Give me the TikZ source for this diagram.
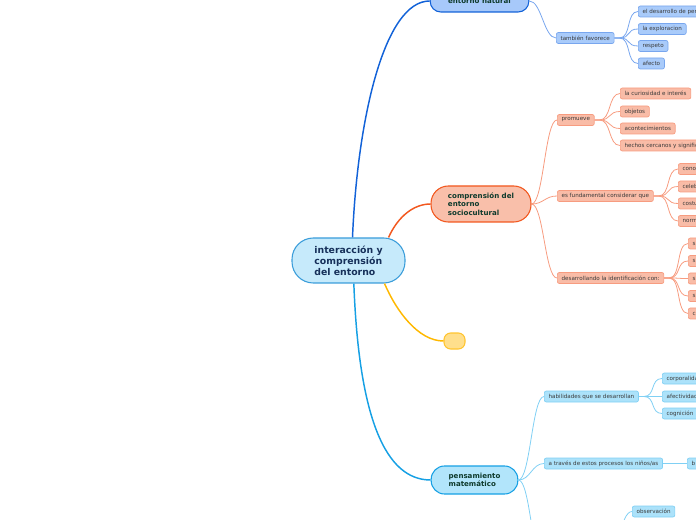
\documentclass[tikz,border=0pt]{standalone}
\usepackage{fontspec}
\setmainfont{DejaVu Sans}
\usepackage{xcolor}
\usepackage{tikz}
\usetikzlibrary{positioning}

\definecolor{mRootFill}{HTML}{C6EAFB}
\definecolor{mRootLine}{HTML}{3A9DDA}
\definecolor{mRootText}{HTML}{16305A}
\definecolor{mTopicText}{HTML}{0E3A2C}
\definecolor{mLeafText}{HTML}{3A3A3A}
\definecolor{mBlue}{HTML}{1262D8}
\definecolor{mBlueFill}{HTML}{A7C9FA}
\definecolor{mBlueLeaf}{HTML}{A9CBFA}
\definecolor{mBlueEdge}{HTML}{78A6EE}
\definecolor{mOrange}{HTML}{F2581F}
\definecolor{mOrangeFill}{HTML}{F9BFAA}
\definecolor{mOrangeLeaf}{HTML}{F9BCA7}
\definecolor{mOrangeEdge}{HTML}{F79C80}
\definecolor{mAmber}{HTML}{FFB800}
\definecolor{mAmberFill}{HTML}{FFDF8C}
\definecolor{mAmberLine}{HTML}{FFC42E}
\definecolor{mCyan}{HTML}{16A0E4}
\definecolor{mCyanFill}{HTML}{B2E5FB}
\definecolor{mCyanLeaf}{HTML}{ACE2FA}
\definecolor{mCyanEdge}{HTML}{80D0F4}

\begin{document}
\begin{tikzpicture}[x=0.75pt, y=-0.75pt,
  rootbox/.style={draw=mRootLine, line width=0.8pt, fill=mRootFill, rounded corners=16pt, minimum width=84.75pt, minimum height=33.75pt, align=left, text=mRootText, font=\fontsize{7}{8.3}\selectfont\bfseries},
  topicbox/.style={line width=0.8pt, align=left, text=mTopicText, font=\fontsize{5.3}{6.4}\selectfont\bfseries},
  leafbox/.style={anchor=west, line width=0.5pt, rounded corners=1.5pt, inner xsep=3.2pt, inner ysep=0pt, minimum height=8.25pt, text=mLeafText, font=\fontsize{4.2}{5}\selectfont},
  blueleaf/.style={leafbox, draw=mBlueEdge, fill=mBlueLeaf},
  orangeleaf/.style={leafbox, draw=mOrangeEdge, fill=mOrangeLeaf},
  cyanleaf/.style={leafbox, draw=mCyanEdge, fill=mCyanLeaf},
  wire/.style={out=0, in=180, out distance=9pt, in distance=9pt},
  mainlink/.style={line width=1.1pt}]
\useasboundingbox (0,0) rectangle (696,520);

% central topic and main branches
\node[rootbox] (root) at (348.5,260.5) {interacción y\\comprensión\\del entorno};
\node[topicbox, draw=mBlue, fill=mBlueFill, rounded corners=8pt, minimum width=74pt, minimum height=16.5pt] (nat) at (479.5,1) {entorno natural};
\node[topicbox, draw=mOrange, fill=mOrangeFill, rounded corners=13pt, minimum width=75pt, minimum height=27pt] (soc) at (481,204) {comprensión del\\entorno\\sociocultural};
\node[draw=mAmberLine, line width=0.8pt, fill=mAmberFill, rounded corners=5pt, minimum width=15.75pt, minimum height=12pt] (yel) at (454.5,341) {};
\node[topicbox, draw=mCyan, fill=mCyanFill, rounded corners=10pt, minimum width=65pt, minimum height=21pt] (mat) at (474.5,480) {pensamiento\\matemático};

\draw[mainlink, mBlue] ([xshift=3pt]root.north) .. controls +(5,-120) and +(-45,0) .. (nat.west);
\draw[mainlink, mOrange] ([xshift=30pt]root.north) .. controls +(10,-22) and +(-16,0) .. (soc.west);
\draw[mainlink, mAmber] ([xshift=27pt]root.south) .. controls +(12,28) and +(-25,0) .. (yel.west);
\draw[mainlink, mCyan] ([xshift=4pt]root.south) .. controls +(5,135) and +(-45,0) .. (mat.west);

% entorno natural
\node[blueleaf] (tf) at (556,38) {también favorece};
\node[blueleaf] (tf1) at (638,11.5) {el desarrollo de per};
\node[blueleaf] (tf2) at (638,29) {la exploracion};
\node[blueleaf] (tf3) at (638,46) {respeto};
\node[blueleaf] (tf4) at (638,63.5) {afecto};
\draw[mBlueEdge, line width=0.6pt] (nat.east) to[wire] (tf.west);
\draw[mBlueEdge, line width=0.6pt] (tf.east) -- ++(5,0) to[wire] (tf1.west);
\draw[mBlueEdge, line width=0.6pt] (tf.east) -- ++(5,0) to[wire] (tf2.west);
\draw[mBlueEdge, line width=0.6pt] (tf.east) -- ++(5,0) to[wire] (tf3.west);
\draw[mBlueEdge, line width=0.6pt] (tf.east) -- ++(5,0) to[wire] (tf4.west);

% entorno sociocultural
\node[orangeleaf] (pro) at (557,120) {promueve};
\node[orangeleaf] (pro1) at (620,93.5) {la curiosidad e interés};
\node[orangeleaf] (pro2) at (620,111.5) {objetos};
\node[orangeleaf] (pro3) at (620,128.5) {acontecimientos};
\node[orangeleaf] (pro4) at (620,145.5) {hechos cercanos y signific};
\node[orangeleaf] (esf) at (557,196) {es fundamental considerar que};
\node[orangeleaf] (esf1) at (678,169) {conoc};
\node[orangeleaf] (esf2) at (678,186.5) {celeb};
\node[orangeleaf] (esf3) at (678,203.5) {costu};
\node[orangeleaf] (esf4) at (678,221) {norm};
\node[orangeleaf] (des) at (557,278) {desarrollando la identificación con:};
\node[orangeleaf] (des1) at (688,243.5) {s};
\node[orangeleaf] (des2) at (688,261) {s};
\node[orangeleaf] (des3) at (688,278.5) {s};
\node[orangeleaf] (des4) at (688,296) {s};
\node[orangeleaf] (des5) at (688,313.5) {c};
\draw[mOrangeEdge, line width=0.6pt] (soc.east) to[wire] (pro.west);
\draw[mOrangeEdge, line width=0.6pt] (soc.east) to[wire] (esf.west);
\draw[mOrangeEdge, line width=0.6pt] (soc.east) to[wire] (des.west);
\draw[mOrangeEdge, line width=0.6pt] (pro.east) -- ++(5,0) to[wire] (pro1.west);
\draw[mOrangeEdge, line width=0.6pt] (pro.east) -- ++(5,0) to[wire] (pro2.west);
\draw[mOrangeEdge, line width=0.6pt] (pro.east) -- ++(5,0) to[wire] (pro3.west);
\draw[mOrangeEdge, line width=0.6pt] (pro.east) -- ++(5,0) to[wire] (pro4.west);
\draw[mOrangeEdge, line width=0.6pt] (esf.east) -- ++(5,0) to[wire] (esf1.west);
\draw[mOrangeEdge, line width=0.6pt] (esf.east) -- ++(5,0) to[wire] (esf2.west);
\draw[mOrangeEdge, line width=0.6pt] (esf.east) -- ++(5,0) to[wire] (esf3.west);
\draw[mOrangeEdge, line width=0.6pt] (esf.east) -- ++(5,0) to[wire] (esf4.west);
\draw[mOrangeEdge, line width=0.6pt] (des.east) -- ++(5,0) to[wire] (des1.west);
\draw[mOrangeEdge, line width=0.6pt] (des.east) -- ++(5,0) to[wire] (des2.west);
\draw[mOrangeEdge, line width=0.6pt] (des.east) -- ++(5,0) to[wire] (des3.west);
\draw[mOrangeEdge, line width=0.6pt] (des.east) -- ++(5,0) to[wire] (des4.west);
\draw[mOrangeEdge, line width=0.6pt] (des.east) -- ++(5,0) to[wire] (des5.west);

% pensamiento matematico
\node[cyanleaf] (hab) at (544,396.5) {habilidades que se desarrollan};
\node[cyanleaf] (hab1) at (662,378.5) {corporalida};
\node[cyanleaf] (hab2) at (662,396.5) {afectividad};
\node[cyanleaf] (hab3) at (662,413.5) {cognición};
\node[cyanleaf] (atr) at (544,463.5) {a través de estos procesos los niños/as};
\node[cyanleaf] (atr1) at (687,463.5) {b};
\node[cyanleaf] (obs) at (632,511.5) {observación};
\coordinate (mat3) at (544,564);
\coordinate (obsp) at (606,560);
\draw[mCyanEdge, line width=0.6pt] (mat.east) to[wire] (hab.west);
\draw[mCyanEdge, line width=0.6pt] (mat.east) to[wire] (atr.west);
\draw[mCyanEdge, line width=0.6pt] (mat.east) to[wire] (mat3);
\draw[mCyanEdge, line width=0.6pt] (hab.east) -- ++(5,0) to[wire] (hab1.west);
\draw[mCyanEdge, line width=0.6pt] (hab.east) -- ++(5,0) to[wire] (hab2.west);
\draw[mCyanEdge, line width=0.6pt] (hab.east) -- ++(5,0) to[wire] (hab3.west);
\draw[mCyanEdge, line width=0.6pt] (atr.east) -- (atr1.west);
\draw[mCyanEdge, line width=0.6pt] (obsp) to[wire] (obs.west);
\end{tikzpicture}
\end{document}
